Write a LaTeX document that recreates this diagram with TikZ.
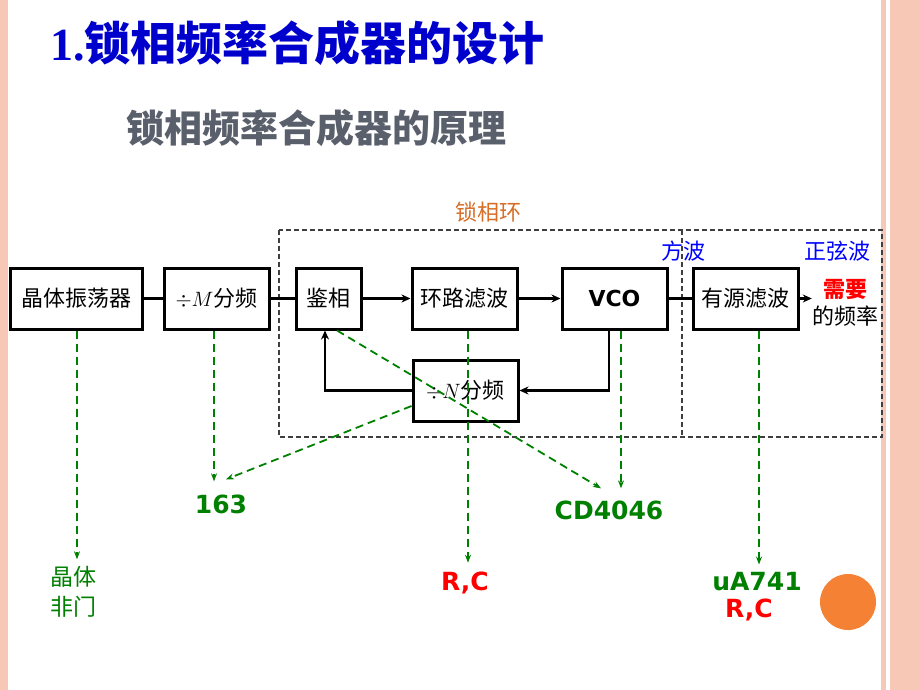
\documentclass[tikz,border=0pt]{standalone}
\usepackage{fontspec}
\setmainfont{Liberation Serif}
\newfontfamily\cjk{Noto Sans CJK SC}
\newfontfamily\dv{DejaVu Sans}
\usetikzlibrary{arrows.meta}
\definecolor{tblue}{RGB}{0,0,204}
\definecolor{sgray}{RGB}{90,95,108}
\definecolor{gdk}{RGB}{0,128,0}
\definecolor{rred}{RGB}{255,0,0}
\definecolor{obr}{RGB}{214,110,40}
\definecolor{bblue}{RGB}{0,0,255}
\definecolor{pinkb}{RGB}{248,200,182}
\definecolor{orng}{RGB}{245,130,52}
\tikzset{
  blk/.style={draw, line width=3pt, minimum height=61pt, inner sep=0pt,
    font=\cjk\fontsize{22}{26}\selectfont},
  ln/.style={line width=2.2pt},
  arr/.style={line width=2.2pt, -{Stealth[length=9pt,width=8pt]}},
  gd/.style={draw=gdk, line width=1.8pt, dash pattern=on 8pt off 5pt,
    -{Stealth[length=8pt,width=6pt,fill=gdk]}},
  lbl/.style={inner sep=0pt, font=\dv\bfseries\fontsize{25}{28}\selectfont},
  cjt/.style={inner sep=0pt, font=\cjk\fontsize{22}{26}\selectfont},
}
\begin{document}
\begin{tikzpicture}[x=1pt,y=-1pt]
\useasboundingbox (0,0) rectangle (920,690);
\fill[white] (0,0) rectangle (920,690);
% border stripes
\fill[pinkb] (0,0) rectangle (8,690);
\fill[pinkb] (881,0) rectangle (886,690);
\fill[pinkb] (890,0) rectangle (920,690);

% titles
\node[anchor=west, inner sep=0pt, text=tblue] (title) at (50,43)
  {\fontsize{46}{50}\selectfont\bfseries 1.\cjk 锁相频率合成器的设计};
\node[anchor=west, inner sep=0pt, text=sgray] (sub) at (126,128)
  {\cjk\bfseries\fontsize{38}{42}\selectfont 锁相频率合成器的原理};

% loop region
\draw[line width=1.2pt, black!75, dash pattern=on 5pt off 3pt] (279,230) rectangle (882,437);
\draw[line width=1.2pt, black!75, dash pattern=on 5pt off 3pt] (682,230) -- (682,437);
\node[cjt, text=obr] (pll) at (488,212) {锁相环};
\node[cjt, text=bblue] (sq) at (683,251) {方波};
\node[cjt, text=bblue] (sine) at (837,251) {正弦波};

% blocks
\node[blk, minimum width=132pt] (osc) at (76,298.5) {晶体振荡器};
\node[blk, minimum width=105pt] (divM) at (216.5,298.5) {$\div M$分频};
\node[blk, minimum width=65pt] (pd) at (328.5,298.5) {鉴相};
\node[blk, minimum width=105pt] (lf) at (464.5,298.5) {环路滤波};
\node[blk, minimum width=105pt, font=\dv\bfseries\fontsize{22}{26}\selectfont] (vco) at (614.5,298.5) {VCO};
\node[blk, minimum width=105pt] (af) at (745.5,298.5) {有源滤波};
\node[blk, minimum width=105pt] (divN) at (465.5,390.5) {$\div N$分频};
\node[inner sep=0pt, align=center, font=\cjk\fontsize{22}{27}\selectfont] (out) at (845,302.5)
  {{\bfseries\color{rred}需要}\\的频率};

% signal path
\draw[ln] (osc.east) -- (divM.west);
\draw[ln] (divM.east) -- (pd.west);
\draw[arr] (pd.east) -- (lf.west);
\draw[arr] (lf.east) -- (vco.west);
\draw[ln] (vco.east) -- (af.west);
\draw[arr] (af.east) -- (af.east -| out.west);
\draw[arr] ([xshift=-5.5pt]vco.south) |- (divN.east);
\draw[arr] (divN.west) -| ([xshift=-3.5pt]pd.south);

% component labels
\node[inner sep=0pt, align=center, text=gdk, font=\cjk\fontsize{23}{30}\selectfont] (xtal) at (73,592) {晶体\\非门};
\node[lbl, text=gdk] (n163) at (221,504) {163};
\node[lbl, text=gdk] (cd) at (609,510) {CD4046};
\node[lbl, text=rred] (rc1) at (465,583) {R,C};
\node[lbl, text=gdk] (ua) at (757,582) {uA741};
\node[lbl, text=rred] (rc2) at (749,610) {R,C};
\fill[orng] (848,602) circle[radius=28pt];

% green dashed pointers
\draw[gd] ([xshift=1pt]osc.south) -- ([xshift=4pt,yshift=7pt]xtal.north);
\draw[gd] ([xshift=-2.5pt]divM.south) -- ([xshift=-7pt,yshift=13pt]n163.north);
\draw[gd] ([yshift=-15.5pt]divN.west) -- ([xshift=5pt,yshift=15pt]n163.north);
\draw[gd] ([xshift=8.5pt]pd.south) -- ([xshift=-8pt,yshift=12pt]cd.north);
\draw[gd] ([xshift=6.5pt]vco.south) -- ([xshift=12pt,yshift=12pt]cd.north);
\draw[gd] ([xshift=3.5pt]lf.south) -- ([xshift=3pt,yshift=9pt]rc1.north);
\draw[gd] ([xshift=13.5pt]af.south) -- ([xshift=2pt,yshift=8pt]ua.north);
\end{tikzpicture}
\end{document}
